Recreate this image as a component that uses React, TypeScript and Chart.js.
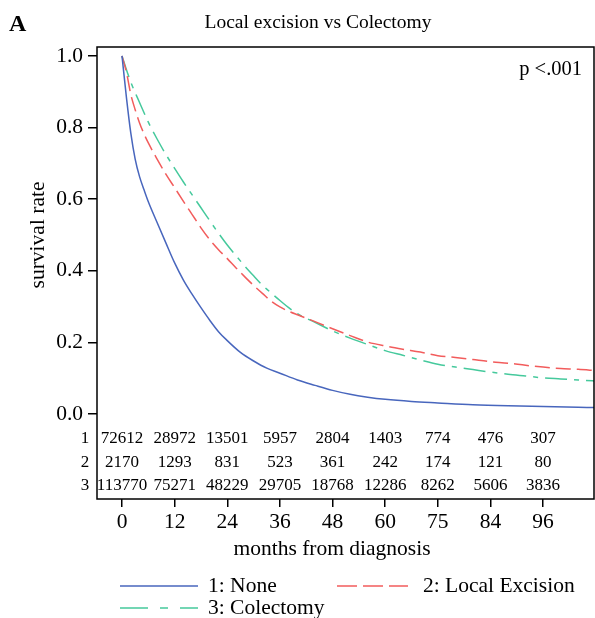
import React, { useEffect, useRef } from "react";
import { Chart, registerables } from "chart.js";

Chart.register(...registerables);

const FONT = "'Liberation Serif', 'Times New Roman', serif";

const chartTitle = "Local excision vs Colectomy";
const panelLabel = "A";
const pValueText = "p <.001";
const xAxisTitle = "months from diagnosis";
const yAxisTitle = "survival rate";

const xTickValues = [0, 12, 24, 36, 48, 60, 72, 84, 96];
const xTickLabels = ["0", "12", "24", "36", "48", "60", "75", "84", "96"];
const yTickValues = [0, 0.2, 0.4, 0.6, 0.8, 1.0];

const noneMonths = [0, 1, 2, 3, 4, 5, 6, 8, 10, 12, 14, 16, 18, 20, 22, 24, 27, 30, 33, 36, 40, 44, 48, 52, 56, 60, 66, 72, 80, 88, 96, 104, 108];
const noneSurvival = [1.0, 0.885, 0.785, 0.712, 0.663, 0.627, 0.593, 0.535, 0.478, 0.422, 0.374, 0.334, 0.297, 0.262, 0.23, 0.205, 0.172, 0.148, 0.128, 0.114, 0.095, 0.08, 0.066, 0.055, 0.047, 0.041, 0.035, 0.031, 0.026, 0.023, 0.021, 0.019, 0.018];

const localMonths = [0, 1, 2, 3, 4, 5, 6, 8, 10, 12, 14, 16, 18, 20, 22, 24, 26, 28, 30, 32, 34, 36, 38, 40, 44, 48, 52, 56, 60, 64, 68, 72, 76, 80, 84, 88, 92, 96, 100, 104, 108];
const localSurvival = [1.0, 0.955, 0.893, 0.85, 0.813, 0.783, 0.757, 0.712, 0.67, 0.632, 0.594, 0.557, 0.52, 0.487, 0.459, 0.434, 0.408, 0.383, 0.359, 0.337, 0.315, 0.299, 0.287, 0.277, 0.258, 0.238, 0.219, 0.201, 0.19, 0.181, 0.173, 0.163, 0.158, 0.152, 0.146, 0.142, 0.136, 0.131, 0.127, 0.125, 0.121];

const colectomyMonths = [0, 1, 2, 4, 6, 8, 10, 12, 14, 16, 18, 20, 22, 24, 26, 28, 30, 32, 34, 36, 38, 40, 44, 48, 52, 56, 60, 64, 68, 72, 76, 80, 84, 88, 92, 96, 100, 104, 108];
const colectomySurvival = [1.0, 0.962, 0.927, 0.87, 0.815, 0.768, 0.725, 0.686, 0.648, 0.612, 0.576, 0.54, 0.505, 0.472, 0.442, 0.413, 0.386, 0.36, 0.338, 0.317, 0.297, 0.28, 0.256, 0.232, 0.212, 0.194, 0.177, 0.164, 0.151, 0.139, 0.131, 0.124, 0.117, 0.111, 0.106, 0.101, 0.098, 0.095, 0.092];

const riskTimes = [0, 12, 24, 36, 48, 60, 72, 84, 96];
const riskNone = ["72612", "28972", "13501", "5957", "2804", "1403", "774", "476", "307"];
const riskLocal = ["2170", "1293", "831", "523", "361", "242", "174", "121", "80"];
const riskColectomy = ["113770", "75271", "48229", "29705", "18768", "12286", "8262", "5606", "3836"];
const riskRowLabels = ["1", "2", "3"];

const seriesLabels = ["1: None", "2: Local Excision", "3: Colectomy"];
const seriesColors = ["#4866bd", "#f25c5c", "#45c99c"];
const seriesDashes: number[][] = [[], [15, 6], [22, 7, 5, 7]];

const toPoints = (xs: number[], ys: number[]) => xs.map((x, i) => ({ x, y: ys[i] }));

export default function App() {
  const ref = useRef<HTMLCanvasElement | null>(null);

  useEffect(() => {
    if (!ref.current) return;

    const overlay = {
      id: "overlay",
      afterDraw(chart: any) {
        const { ctx, chartArea } = chart;
        const xs = chart.scales.x;
        ctx.save();
        // frame
        ctx.strokeStyle = "#000";
        ctx.lineWidth = 1.5;
        ctx.strokeRect(chartArea.left, chartArea.top, chartArea.right - chartArea.left, chartArea.bottom - chartArea.top);

        ctx.fillStyle = "#000";
        // panel label
        ctx.font = `bold 24px ${FONT}`;
        ctx.textAlign = "left";
        ctx.textBaseline = "middle";
        ctx.fillText(panelLabel, 9, 25);
        // title
        ctx.font = `19.5px ${FONT}`;
        ctx.textAlign = "center";
        ctx.fillText(chartTitle, 318, 23);
        // p value
        ctx.font = `20.5px ${FONT}`;
        ctx.textAlign = "right";
        ctx.fillText(pValueText, chartArea.right - 12, 70);

        // axis titles
        ctx.font = `21.5px ${FONT}`;
        ctx.textAlign = "center";
        ctx.fillText(xAxisTitle, 332, 549);
        ctx.save();
        ctx.translate(38, chart.scales.y.getPixelForValue(0.5));
        ctx.rotate(-Math.PI / 2);
        ctx.fillText(yAxisTitle, 0, 0);
        ctx.restore();

        // risk table
        const rows = [riskNone, riskLocal, riskColectomy];
        const rowOffsets = [60, 36, 13];
        ctx.font = `17px ${FONT}`;
        rows.forEach((row, r) => {
          const y = chartArea.bottom - rowOffsets[r];
          ctx.textAlign = "center";
          row.forEach((txt, i) => {
            ctx.fillText(txt, xs.getPixelForValue(riskTimes[i]), y);
          });
          ctx.fillText(riskRowLabels[r], 85, y);
        });

        // legend
        ctx.font = `21.5px ${FONT}`;
        ctx.textAlign = "left";
        const legendPos = [
          { x1: 120, x2: 198, tx: 208, y: 586 },
          { x1: 337, x2: 408, tx: 423, y: 586 },
          { x1: 120, x2: 198, tx: 208, y: 608 },
        ];
        legendPos.forEach((p, i) => {
          ctx.strokeStyle = seriesColors[i];
          ctx.lineWidth = 1.5;
          ctx.setLineDash(i === 1 ? [20, 6] : i === 2 ? [28, 12, 8, 12] : []);
          ctx.beginPath();
          ctx.moveTo(p.x1, p.y);
          ctx.lineTo(p.x2, p.y);
          ctx.stroke();
          ctx.setLineDash([]);
          ctx.fillText(seriesLabels[i], p.tx, p.y);
        });
        ctx.restore();
      },
    };

    const chart = new Chart(ref.current, {
      type: "line",
      data: {
        datasets: [
          { label: seriesLabels[0], data: toPoints(noneMonths, noneSurvival) },
          { label: seriesLabels[1], data: toPoints(localMonths, localSurvival) },
          { label: seriesLabels[2], data: toPoints(colectomyMonths, colectomySurvival) },
        ].map((d, i) => ({
          ...d,
          borderColor: seriesColors[i],
          borderWidth: 1.5,
          borderDash: seriesDashes[i],
          pointRadius: 0,
          fill: false,
          cubicInterpolationMode: "monotone" as const,
        })),
      },
      options: {
        responsive: false,
        animation: false,
        devicePixelRatio: 1,
        layout: { padding: { top: 47, right: 1, left: 0, bottom: 0 } },
        plugins: { legend: { display: false }, title: { display: false }, tooltip: { enabled: false } },
        scales: {
          x: {
            type: "linear",
            min: -5.7,
            max: 107.6,
            afterBuildTicks: (axis: any) => {
              axis.ticks = xTickValues.map((v) => ({ value: v }));
            },
            afterFit: (s: any) => {
              s.height = 119;
            },
            ticks: {
              callback: (v: any) => {
                const i = xTickValues.indexOf(Number(v));
                return i >= 0 ? xTickLabels[i] : "";
              },
              font: { family: FONT, size: 21.5 },
              color: "#000",
              padding: 2,
              maxRotation: 0,
              autoSkip: false,
            },
            grid: { drawOnChartArea: false, drawTicks: true, tickLength: 8, color: "#000", lineWidth: 1.5 },
            border: { display: false },
          },
          y: {
            type: "linear",
            min: -0.2374,
            max: 1.025,
            afterBuildTicks: (axis: any) => {
              axis.ticks = yTickValues.map((v) => ({ value: v }));
            },
            afterFit: (s: any) => {
              s.width = 97;
            },
            ticks: {
              callback: (v: any) => Number(v).toFixed(1),
              font: { family: FONT, size: 21.5 },
              color: "#000",
              padding: 5,
              autoSkip: false,
            },
            grid: { drawOnChartArea: false, drawTicks: true, tickLength: 9, color: "#000", lineWidth: 1.5 },
            border: { display: false },
          },
        },
      },
      plugins: [overlay],
    });

    return () => chart.destroy();
  }, []);

  return (
    <div style={{ position: "fixed", left: 0, top: 0, width: 595, height: 618, background: "#fff" }}>
      <canvas ref={ref} width={595} height={618} style={{ width: 595, height: 618, display: "block" }} />
    </div>
  );
}
